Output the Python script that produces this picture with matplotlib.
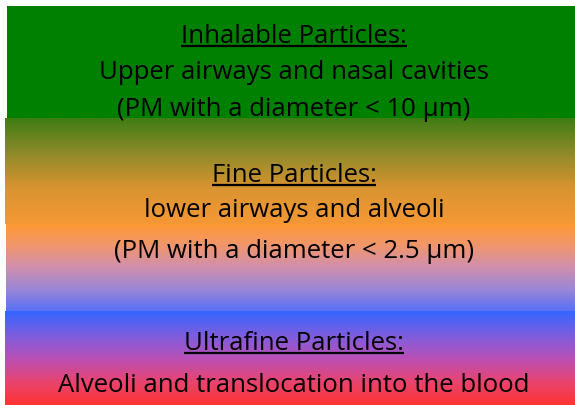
import matplotlib
matplotlib.use("Agg")
import matplotlib.pyplot as plt
import numpy as np
from matplotlib.colors import LinearSegmentedColormap
from matplotlib.patches import Rectangle

# text lines, their baselines (px from top) and whether they are underlined
labels = [
    "Inhalable Particles:",
    "Upper airways and nasal cavities",
    "(PM with a diameter < 10 \u00b5m)",
    "Fine Particles:",
    "lower airways and alveoli",
    "(PM with a diameter < 2.5 \u00b5m)",
    "Ultrafine Particles:",
    "Alveoli and translocation into the blood",
]
baselines = [43, 79, 115.5, 182, 217, 258, 350, 392]
underlined = [True, False, False, True, False, False, True, False]
# which colour band each line sits in (text is cut at the band edge)
line_band = [0, 0, 0, 1, 1, 2, 3, 3]

# colour bands: top, bottom, left edge, colour stops
band_top = [6, 118, 224, 311]
band_bottom = [118, 224, 311, 405]
band_left = [7, 5, 6, 5]
band_colors = [
    ["#008000", "#008000"],
    ["#3f7d14", "#8f8a2a", "#d99430", "#f59835"],
    ["#ff9933", "#f0966e", "#cf8fae", "#9a86d6", "#5a70f6"],
    ["#3366ff", "#7a5ee0", "#b850b8", "#e84470", "#ff3333"],
]

W, H = 575, 405
fig = plt.figure(figsize=(W / 100, H / 100), dpi=100)
ax = fig.add_axes([0, 0, 1, 1])

for top, bot, left, cols in zip(band_top, band_bottom, band_left, band_colors):
    cmap = LinearSegmentedColormap.from_list("band", cols)
    grad = np.linspace(0, 1, 256).reshape(-1, 1)
    ax.imshow(grad, cmap=cmap, aspect="auto", extent=(left, W, bot, top),
              interpolation="bilinear")

ax.set_xlim(0, W)
ax.set_ylim(H, 0)
ax.axis("off")

texts = []
for lab, yb, b in zip(labels, baselines, line_band):
    t = ax.text(294, yb, lab, ha="center", va="baseline", fontsize=18.5,
                family="Open Sans", color="black")
    clip = Rectangle((0, band_top[b]), W, band_bottom[b] - band_top[b],
                     transform=ax.transData, visible=False)
    ax.add_patch(clip)
    t.set_clip_path(clip)
    texts.append(t)

fig.canvas.draw()
renderer = fig.canvas.get_renderer()
inv = ax.transData.inverted()
for t, yb, ul in zip(texts, baselines, underlined):
    if not ul:
        continue
    bb = t.get_window_extent(renderer)
    (x0, _), (x1, _) = inv.transform([(bb.x0, 0), (bb.x1, 0)])
    ax.plot([x0, x1], [yb + 3, yb + 3], color="black", lw=1.6,
            solid_capstyle="butt")

fig.savefig("out.png", dpi=100, facecolor="white")
